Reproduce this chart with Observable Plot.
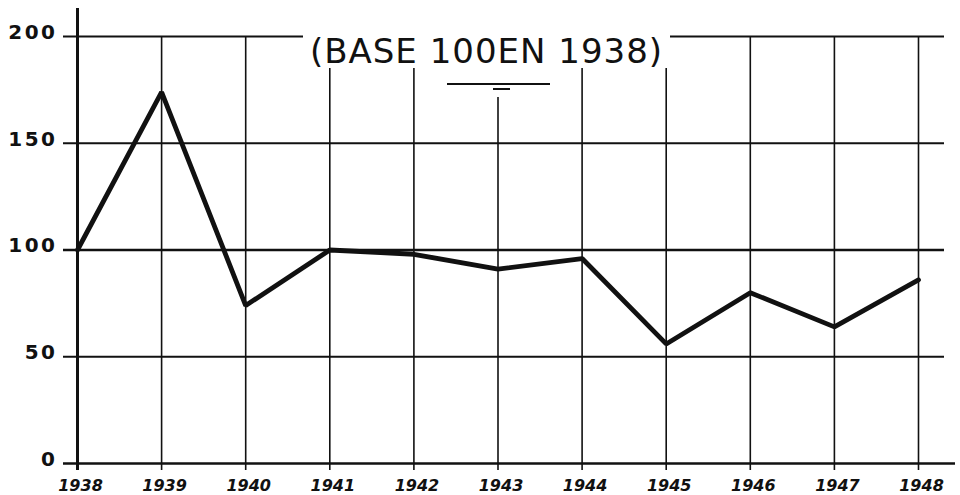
<!DOCTYPE html>
<html>
<head>
<meta charset="utf-8">
<script src="https://cdn.jsdelivr.net/npm/d3@7"></script>
<script src="https://cdn.jsdelivr.net/npm/@observablehq/plot@0.6"></script>
<style>
  html, body { margin: 0; padding: 0; background: #fff; }
  #wrap { position: relative; width: 960px; height: 495px; overflow: hidden; }
  #title {
    position: absolute; top: 30px; left: 303px; width: 367px; height: 38px;
    background: #fff; text-align: center;
    font-family: "DejaVu Sans", sans-serif; font-size: 34px; line-height: 34px;
    letter-spacing: 1px; color: #111; padding-top: 4px; box-sizing: border-box;
    white-space: nowrap;
  }
  #blank { position: absolute; top: 66px; left: 446px; width: 106px; height: 31px; background: #fff; }
  #ul1 { position: absolute; top: 83px; left: 447px; width: 103px; height: 2px; background: #111; }
  #ul2 { position: absolute; top: 88px; left: 493px; width: 17px; height: 2px; background: #111; }
</style>
</head>
<body>
<div id="wrap"></div>
<script>
const years = [1938, 1939, 1940, 1941, 1942, 1943, 1944, 1945, 1946, 1947, 1948];
const values = [100, 174, 74, 100, 98, 91, 96, 56, 80, 64, 86];
const yTicks = [0, 50, 100, 150, 200];
const titleText = "(BASE 100EN 1938)";

const data = years.map((y, i) => ({year: y, value: values[i]}));
const ink = "#111";

const chart = Plot.plot({
  width: 960,
  height: 495,
  marginLeft: 77,
  marginRight: 42,
  marginTop: 36,
  marginBottom: 32,
  x: {domain: [1938, 1948], axis: null},
  y: {domain: [0, 200], axis: null},
  marks: [
    Plot.ruleX(years.slice(1), {x: d => d, stroke: ink, strokeWidth: 1.6, insetBottom: -7}),
    Plot.ruleY(yTicks.filter(d => d !== 100 && d !== 0), {y: d => d, stroke: ink, strokeWidth: 1.8, insetLeft: -14, insetRight: -26}),
    Plot.ruleY(yTicks.filter(d => d === 100), {y: d => d, stroke: ink, strokeWidth: 2.6, insetLeft: -14, insetRight: -26}),
    Plot.ruleY(yTicks.filter(d => d === 0), {y: d => d, stroke: ink, strokeWidth: 2.6, insetLeft: -14, insetRight: -37}),
    Plot.ruleX(years.slice(0, 1), {x: d => d, stroke: ink, strokeWidth: 3, insetTop: -28, insetBottom: -7}),
    Plot.line(data, {x: "year", y: "value", stroke: ink, strokeWidth: 4.8, strokeLinejoin: "miter"}),
    Plot.text(yTicks, {y: d => d, text: d => String(d), frameAnchor: "left", textAnchor: "end", dx: -20, dy: -4,
      fontFamily: "DejaVu Sans", fontWeight: "bold", fontSize: 20, fill: ink}),
    Plot.text(years, {x: d => d, text: d => String(d), frameAnchor: "bottom", dy: 27, dx: 3,
      fontFamily: "DejaVu Sans", fontWeight: "bold", fontStyle: "italic", fontSize: 16, fill: ink})
  ]
});

const groups = chart.querySelectorAll('g[aria-label="text"]');
if (groups[0]) groups[0].style.letterSpacing = "2.5px";

const wrap = document.getElementById("wrap");
wrap.appendChild(chart);
const t = document.createElement("div"); t.id = "title"; t.textContent = titleText; wrap.appendChild(t);
["blank", "ul1", "ul2"].forEach(id => { const e = document.createElement("div"); e.id = id; wrap.appendChild(e); });
</script>
</body>
</html>
